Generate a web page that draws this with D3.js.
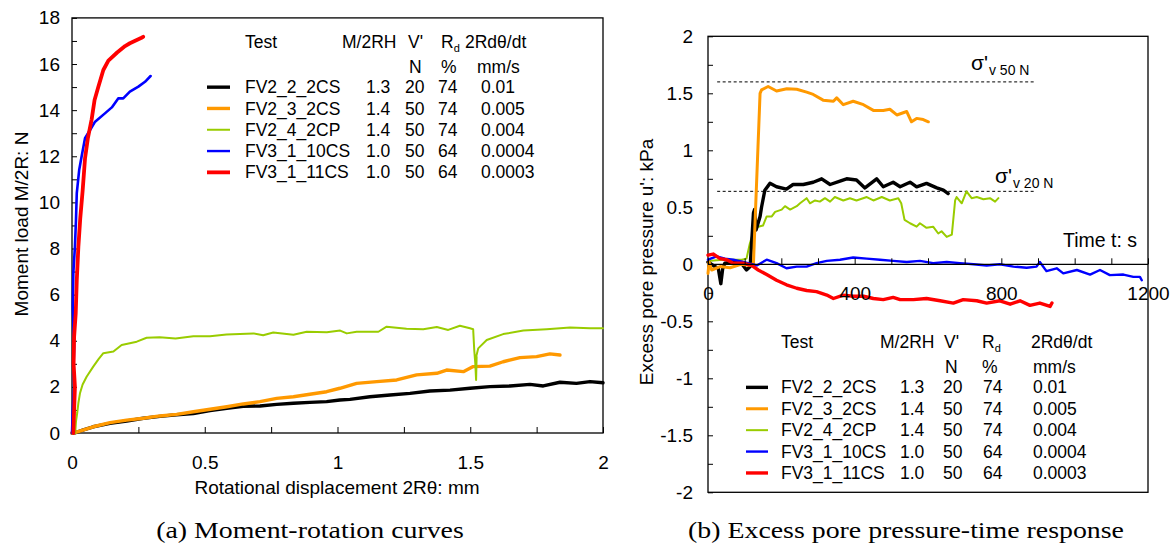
<!DOCTYPE html>
<html>
<head>
<meta charset="utf-8">
<script src="https://cdn.jsdelivr.net/npm/d3@7/dist/d3.min.js"></script>
<style>
  html, body { margin: 0; padding: 0; background: #fff; }
  svg { display: block; }
  text { font-family: "Liberation Sans", Arial, sans-serif; fill: #000; }
  .caption { font-family: "Liberation Serif", "Times New Roman", serif; }
</style>
</head>
<body>
<svg id="chart" width="1174" height="546"></svg>
<script>
// ---------- tests (shared by both panels) ----------
const testNames = ["FV2_2_2CS", "FV2_3_2CS", "FV2_4_2CP", "FV3_1_10CS", "FV3_1_11CS"];
const testColors = ["#000000", "#ff9900", "#99cc00", "#0000ff", "#ff0000"];
const momentRatio = ["1.3", "1.4", "1.4", "1.0", "1.0"];
const verticalLoad = ["20", "50", "50", "50", "50"];
const relDensity = ["74", "74", "74", "64", "64"];
const rotationRate = ["0.01", "0.005", "0.004", "0.0004", "0.0003"];

// ---------- (a) moment load vs rotational displacement [2Rθ mm, M/2R N] ----------
const momentFV2_2_2CS = [[0,0],[0.011,0.01],[0.04,0.12],[0.08,0.27],[0.143,0.42],[0.206,0.52],[0.269,0.64],[0.331,0.72],[0.394,0.79],[0.457,0.84],[0.52,0.97],[0.583,1.07],[0.645,1.16],[0.708,1.17],[0.771,1.24],[0.834,1.29],[0.896,1.33],[0.959,1.36],[1.009,1.43],[1.047,1.46],[1.122,1.57],[1.198,1.65],[1.273,1.72],[1.348,1.82],[1.424,1.86],[1.499,1.94],[1.574,2.01],[1.65,2.04],[1.725,2.11],[1.775,2.04],[1.838,2.2],[1.9,2.15],[1.951,2.23],[2.0,2.18]];
const momentFV2_3_2CS = [[0,0],[0.011,0.02],[0.08,0.27],[0.143,0.45],[0.206,0.56],[0.269,0.64],[0.331,0.74],[0.394,0.81],[0.457,0.92],[0.52,1.03],[0.583,1.14],[0.645,1.26],[0.708,1.36],[0.771,1.5],[0.834,1.57],[0.896,1.68],[0.959,1.79],[1.009,1.94],[1.072,2.15],[1.148,2.23],[1.223,2.3],[1.298,2.52],[1.374,2.59],[1.411,2.73],[1.474,2.66],[1.511,2.88],[1.574,2.9],[1.624,3.09],[1.687,3.27],[1.75,3.31],[1.8,3.43],[1.838,3.38]];
const momentFV2_4_2CP = [[0.012,0],[0.015,0.5],[0.02,0.9],[0.024,1.3],[0.03,1.72],[0.04,2.1],[0.055,2.44],[0.08,2.88],[0.1,3.2],[0.118,3.46],[0.156,3.53],[0.187,3.82],[0.244,3.96],[0.281,4.13],[0.33,4.15],[0.39,4.1],[0.457,4.2],[0.52,4.2],[0.582,4.27],[0.683,4.32],[0.72,4.24],[0.758,4.36],[0.834,4.26],[0.884,4.39],[0.96,4.37],[1.01,4.44],[1.035,4.32],[1.072,4.39],[1.154,4.39],[1.185,4.61],[1.26,4.52],[1.323,4.5],[1.374,4.6],[1.417,4.47],[1.461,4.65],[1.499,4.54],[1.511,4.5],[1.515,3.6],[1.519,3.02],[1.522,2.3],[1.524,3.31],[1.52,3.2],[1.53,3.67],[1.562,4.03],[1.624,4.29],[1.7,4.44],[1.788,4.5],[1.876,4.58],[1.951,4.54],[2.0,4.54]];
const momentFV3_1_10CS = [[0,0],[0.003,1.0],[0.008,2.0],[0.006,3.0],[0.008,3.74],[0.003,5.48],[0.005,6.94],[0.011,8.08],[0.015,9.24],[0.018,10.4],[0.027,11.4],[0.036,11.98],[0.049,12.78],[0.068,13.14],[0.087,13.5],[0.124,13.86],[0.15,14.12],[0.174,14.51],[0.193,14.51],[0.218,14.8],[0.25,15.02],[0.275,15.23],[0.296,15.48]];
const momentFV3_1_11CS = [[0.005,0],[0.008,1.0],[0.011,2.0],[0.006,3.0],[0.008,4.18],[0.014,5.19],[0.018,6.63],[0.024,8.08],[0.031,9.3],[0.04,10.5],[0.049,11.9],[0.06,12.8],[0.074,13.6],[0.085,14.44],[0.099,15.0],[0.118,15.74],[0.137,16.15],[0.17,16.5],[0.2,16.78],[0.218,16.9],[0.24,17.02],[0.262,17.14],[0.268,17.18]];

// ---------- (b) excess pore pressure vs time [t s, u' kPa] ----------
const poreFV2_2_2CS = [[0,0.02],[14,-0.01],[28,-0.035],[35,-0.17],[40,-0.04],[46,0.01],[69,0.02],[91,0.01],[105,-0.05],[115,-0.02],[124,0.45],[127,0.48],[131,0.3],[142,0.42],[146,0.5],[155,0.65],[169,0.71],[187,0.68],[214,0.66],[232,0.7],[260,0.7],[287,0.72],[310,0.75],[333,0.7],[360,0.73],[378,0.75],[405,0.74],[428,0.67],[460,0.75],[478,0.68],[505,0.72],[524,0.68],[551,0.72],[569,0.68],[596,0.71],[624,0.67],[642,0.65],[655,0.62]];
const poreFV2_3_2CS = [[0,-0.08],[3,0.02],[10,-0.05],[33,-0.02],[60,-0.03],[90,0.0],[115,-0.01],[124,0.01],[142,1.5],[146,1.53],[164,1.56],[187,1.52],[215,1.54],[242,1.535],[269,1.51],[287,1.49],[314,1.44],[342,1.43],[351,1.46],[369,1.4],[396,1.43],[424,1.4],[451,1.35],[478,1.35],[496,1.36],[515,1.31],[542,1.34],[555,1.25],[569,1.28],[587,1.27],[601,1.25]];
const poreFV2_4_2CP = [[0,0.03],[40,0.04],[92,0.04],[105,0.05],[114,0.18],[124,0.29],[137,0.33],[150,0.34],[160,0.42],[174,0.42],[183,0.46],[201,0.48],[210,0.51],[224,0.48],[242,0.51],[251,0.535],[269,0.58],[278,0.535],[292,0.56],[305,0.55],[319,0.58],[333,0.55],[346,0.59],[369,0.56],[387,0.58],[405,0.56],[433,0.59],[451,0.56],[474,0.59],[496,0.56],[519,0.58],[527,0.535],[536,0.39],[551,0.36],[569,0.33],[578,0.36],[596,0.32],[614,0.33],[628,0.27],[637,0.29],[651,0.24],[665,0.26],[674,0.56],[678,0.59],[692,0.535],[705,0.64],[719,0.58],[733,0.59],[751,0.57],[769,0.58],[783,0.55],[792,0.58]];
const poreFV3_1_10CS = [[0,0.04],[24,0.07],[46,0.05],[69,0.04],[96,0.02],[133,-0.01],[160,0.04],[187,0.01],[214,-0.035],[242,-0.02],[269,-0.02],[296,0.01],[324,0.03],[360,0.04],[396,0.06],[433,0.05],[469,0.04],[505,0.03],[542,0.02],[578,0.03],[614,0.01],[651,0.02],[687,0.01],[724,0],[760,-0.01],[796,0],[833,-0.02],[869,-0.03],[896,-0.02],[905,0.02],[923,-0.06],[951,-0.035],[969,-0.08],[1006,-0.05],[1042,-0.09],[1069,-0.05],[1096,-0.095],[1133,-0.09],[1160,-0.11],[1178,-0.11],[1183,-0.14]];
const poreFV3_1_11CS = [[0,0.08],[14,0.09],[33,0.05],[51,0.04],[69,0.01],[96,0.01],[119,-0.01],[137,-0.05],[160,-0.09],[187,-0.14],[214,-0.18],[242,-0.21],[269,-0.23],[296,-0.24],[324,-0.27],[342,-0.3],[369,-0.27],[396,-0.28],[424,-0.28],[451,-0.3],[478,-0.31],[505,-0.29],[524,-0.31],[560,-0.31],[596,-0.3],[633,-0.32],[669,-0.34],[696,-0.31],[733,-0.32],[760,-0.34],[796,-0.32],[824,-0.35],[851,-0.32],[878,-0.36],[905,-0.34],[933,-0.37],[938,-0.34]];

// effective vertical stress reference levels (kPa) and the time span they are drawn over
const stressLevels = [1.6, 0.64];
const stressLabels = ["50 N", "20 N"];
const stressSpan = [25, 895];

// ---------- tick values ----------
const momentTicks = [0, 2, 4, 6, 8, 10, 12, 14, 16, 18];
const momentMinorTicks = d3.range(0, 18.001, 1);
const dispTicks = [0, 0.5, 1, 1.5, 2];
const dispMinorTicks = d3.range(0, 2.001, 0.25);
const poreTicks = [-2, -1.5, -1, -0.5, 0, 0.5, 1, 1.5, 2];
const poreMinorTicks = d3.range(-2, 2.001, 0.25);
const timeTicks = [0, 400, 800, 1200];
const timeMinorTicks = d3.range(0, 1200.1, 100);

const svg = d3.select("#chart");
const TICK_FONT = 19;
const LEGEND_FONT = 17.5;

function label(g, x, y, str, opts = {}) {
  return g.append("text")
    .attr("x", x).attr("y", y)
    .attr("dy", "0.35em")
    .attr("font-size", opts.size || LEGEND_FONT)
    .attr("text-anchor", opts.anchor || "start")
    .text(str);
}

function styleAxis(g, size) {
  g.select(".domain").remove();
  g.selectAll(".tick line").attr("stroke", "#000").attr("stroke-width", 1);
  g.selectAll(".tick text").attr("font-size", size)
    .attr("font-family", "Liberation Sans, Arial, sans-serif").attr("fill", "#000");
}

function legendTable(g, x0, y0, rowH, cols, hdrX, lineX, widths) {
  label(g, x0, y0, "Test");
  label(g, hdrX[0], y0, "M/2RH");
  label(g, hdrX[1], y0, "V'");
  const rd = label(g, hdrX[2], y0, "R");
  rd.append("tspan").attr("font-size", 11).attr("dy", "0.35em").text("d");
  label(g, hdrX[3], y0, "2Rdθ/dt");
  label(g, hdrX[1] + 1, y0 + rowH * 1.17, "N");
  label(g, hdrX[2], y0 + rowH * 1.17, "%");
  label(g, hdrX[4], y0 + rowH * 1.17, "mm/s");
  testNames.forEach((name, i) => {
    const y = y0 + rowH * (2.12 + i);
    g.append("line").attr("x1", lineX[0]).attr("x2", lineX[1])
      .attr("y1", y).attr("y2", y)
      .attr("stroke", testColors[i]).attr("stroke-width", widths[i]);
    label(g, x0, y, name);
    label(g, cols[0], y, momentRatio[i]);
    label(g, cols[1], y, verticalLoad[i]);
    label(g, cols[2], y, relDensity[i]);
    label(g, cols[3], y, rotationRate[i]);
  });
}

// =============== panel (a) ===============
const xA = d3.scaleLinear().domain([0, 2]).range([72, 603]);
const yA = d3.scaleLinear().domain([0, 18]).range([433, 17.9]);
const gA = svg.append("g");

const gAyMinor = gA.append("g").attr("transform", `translate(${xA(0)},0)`)
  .call(d3.axisLeft(yA).tickValues(momentMinorTicks).tickSize(-5).tickFormat(""));
styleAxis(gAyMinor, TICK_FONT);
const gAy = gA.append("g").attr("transform", `translate(${xA(0)},0)`)
  .call(d3.axisLeft(yA).tickValues(momentTicks).tickSize(0).tickPadding(12).tickFormat(d3.format("d")));
styleAxis(gAy, TICK_FONT);
const gAx = gA.append("g").attr("transform", `translate(0,${yA(0)})`)
  .call(d3.axisBottom(xA).tickValues(dispMinorTicks).tickSize(-6).tickFormat(""));
styleAxis(gAx, TICK_FONT);
const gAxl = gA.append("g").attr("transform", `translate(0,${yA(0)})`)
  .call(d3.axisBottom(xA).tickValues(dispTicks).tickSize(0).tickPadding(23).tickFormat(d => String(d)));
styleAxis(gAxl, TICK_FONT);

gA.append("rect").attr("x", xA(0)).attr("y", yA(18))
  .attr("width", xA(2) - xA(0)).attr("height", yA(0) - yA(18))
  .attr("fill", "none").attr("stroke", "#000").attr("stroke-width", 1.3);

const lineA = d3.line().x(d => xA(d[0])).y(d => yA(d[1]));
const seriesA = [momentFV2_2_2CS, momentFV2_3_2CS, momentFV2_4_2CP, momentFV3_1_10CS, momentFV3_1_11CS];
const widthsA = [3.4, 3.4, 2, 2.6, 3.8];
seriesA.forEach((s, i) => {
  gA.append("path").datum(s).attr("d", lineA)
    .attr("fill", "none").attr("stroke", testColors[i])
    .attr("stroke-width", widthsA[i]).attr("stroke-linejoin", "round").attr("stroke-linecap", "round");
});

legendTable(gA, 245, 42, 21.3, [366, 405, 438, 481], [342, 408, 441, 465, 477], [207, 230], [3.4, 3.4, 2, 2.4, 3.8]);

label(gA, 0, 0, "Moment load M/2R: N", { size: 19, anchor: "middle" })
  .attr("transform", "translate(21,224) rotate(-90)");
label(gA, 337, 487, "Rotational displacement 2Rθ: mm", { size: 19, anchor: "middle" });
label(gA, 0, 0, "(a) Moment-rotation curves", { size: 24, anchor: "middle" })
  .attr("class", "caption").attr("transform", "translate(310,530) scale(1.16,1)");

// =============== panel (b) ===============
const xB = d3.scaleLinear().domain([0, 1200]).range([708, 1148]);
const yB = d3.scaleLinear().domain([-2, 2]).range([492.3, 36.3]);
const gB = svg.append("g");

const gByMinor = gB.append("g").attr("transform", `translate(${xB(0)},0)`)
  .call(d3.axisLeft(yB).tickValues(poreMinorTicks).tickSize(-5).tickFormat(""));
styleAxis(gByMinor, TICK_FONT);
const gBy = gB.append("g").attr("transform", `translate(${xB(0)},0)`)
  .call(d3.axisLeft(yB).tickValues(poreTicks).tickSize(0).tickPadding(15).tickFormat(d => String(d)));
styleAxis(gBy, TICK_FONT);

gB.append("rect").attr("x", xB(0)).attr("y", yB(2))
  .attr("width", xB(1200) - xB(0)).attr("height", yB(-2) - yB(2))
  .attr("fill", "none").attr("stroke", "#000").attr("stroke-width", 1.3);

// reference stress levels
stressLevels.forEach((v, i) => {
  gB.append("line")
    .attr("x1", xB(stressSpan[0])).attr("x2", xB(stressSpan[1]))
    .attr("y1", yB(v)).attr("y2", yB(v))
    .attr("stroke", "#000").attr("stroke-width", 1).attr("stroke-dasharray", "3,2.5");
});
const sigmaPos = [[971, 63], [995, 176]];
stressLabels.forEach((s, i) => {
  const t = label(gB, sigmaPos[i][0], sigmaPos[i][1], "σ'", { size: 21 });
  t.append("tspan").attr("font-size", 14).attr("dy", "0.3em").attr("dx", 1).text("v " + s);
});

const lineB = d3.line().x(d => xB(d[0])).y(d => yB(d[1]));
const seriesB = [poreFV2_4_2CP, poreFV2_2_2CS, poreFV2_3_2CS, poreFV3_1_10CS, poreFV3_1_11CS];
const colorsB = [testColors[2], testColors[0], testColors[1], testColors[3], testColors[4]];
const widthsB = [2, 3.4, 3, 2.4, 3.4];
seriesB.forEach((s, i) => {
  gB.append("path").datum(s).attr("d", lineB)
    .attr("fill", "none").attr("stroke", colorsB[i])
    .attr("stroke-width", widthsB[i]).attr("stroke-linejoin", "round").attr("stroke-linecap", "round");
});

// time axis along u' = 0
const gBx = gB.append("g").attr("transform", `translate(0,${yB(0)})`)
  .call(d3.axisBottom(xB).tickValues(timeMinorTicks).tickSize(-6).tickFormat(""));
styleAxis(gBx, TICK_FONT);
gB.append("line").attr("x1", xB(0)).attr("x2", xB(1200)).attr("y1", yB(0)).attr("y2", yB(0))
  .attr("stroke", "#000").attr("stroke-width", 1.3);
const gBxl = gB.append("g").attr("transform", `translate(0,${yB(0)})`)
  .call(d3.axisBottom(xB).tickValues(timeTicks).tickSize(0).tickPadding(22).tickFormat(d => String(d)));
styleAxis(gBxl, TICK_FONT);
label(gB, 1063, 240, "Time t: s", { size: 19.5 });

legendTable(gB, 781, 342, 21.4, [900, 943, 983, 1033], [880, 944, 982, 1031, 1033], [746, 768], [3.4, 3, 2, 2.4, 3.4]);

label(gB, 0, 0, "Excess pore pressure u': kPa", { size: 19, anchor: "middle" })
  .attr("transform", "translate(646,262) rotate(-90)");
label(gB, 0, 0, "(b) Excess pore pressure-time response", { size: 24, anchor: "middle" })
  .attr("class", "caption").attr("transform", "translate(906,530) scale(1.16,1)");
</script>
</body>
</html>
